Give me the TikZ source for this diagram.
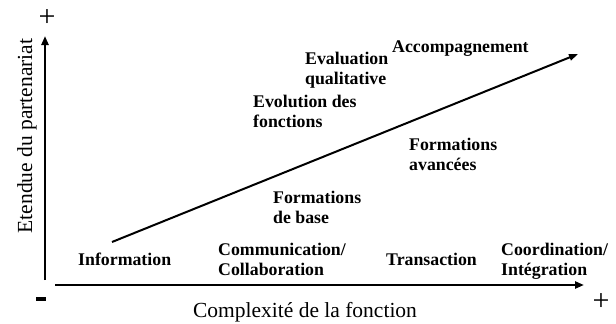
\documentclass[tikz,border=0pt]{standalone}
\usepackage{fontspec}
\setmainfont{Liberation Serif}
\usetikzlibrary{arrows.meta}
\tikzset{
  lbl/.style={font=\fontsize{17.8}{20}\selectfont\bfseries, inner sep=0pt, align=left, anchor=base west},
  axis/.style={line width=2.4pt, -{Triangle[length=9pt,width=7pt]}},
  trend/.style={line width=2pt, -{Triangle[length=9pt,width=6.5pt]}},
  axlbl/.style={font=\fontsize{21.5}{24}\selectfont, inner sep=0pt},
  sign/.style={font=\fontsize{30}{30}\selectfont, inner sep=0pt, anchor=base}
}
\begin{document}
\begin{tikzpicture}[x=1pt,y=-1pt]
\useasboundingbox (0,0) rectangle (616,324);
% axes
\coordinate (o1) at (45,280);
\coordinate (yt) at (45,36);
\coordinate (o2) at (55,285);
\coordinate (xt) at (584,285);
\draw[axis] (o1) -- (yt);
\draw[axis] (o2) -- (xt);
% trend
\coordinate (ts) at (112,242);
\coordinate (te) at (578,54);
\draw[trend] (ts) -- (te);
% signs
\node[sign] (plusy) at (47,26) {+};
\node[sign] (plusx) at (601,310) {+};
\node[inner sep=0pt] (minus) at (41,299) {\rule{10pt}{4.5pt}};
% axis labels
\node[axlbl, rotate=90, anchor=base] (ylab) at (32,136) {Etendue du partenariat};
\node[axlbl, anchor=base] (xlab) at (305,317) {Complexité de la fonction};
% function labels
\node[lbl] (info) at (78,265) {Information};
\node[lbl] (comm) at (218,275) {Communication/\\Collaboration};
\node[lbl] (trans) at (386,265) {Transaction};
\node[lbl] (coord) at (501,275) {Coordination/\\Intégration};
% partnership labels
\node[lbl] (fbase) at (273,223) {Formations\\de base};
\node[lbl] (fav) at (409,170) {Formations\\avancées};
\node[lbl] (evol) at (253,127) {Evolution des\\fonctions};
\node[lbl] (evqual) at (305,84) {Evaluation\\qualitative};
\node[lbl] (accomp) at (392,52) {Accompagnement};
\end{tikzpicture}
\end{document}
